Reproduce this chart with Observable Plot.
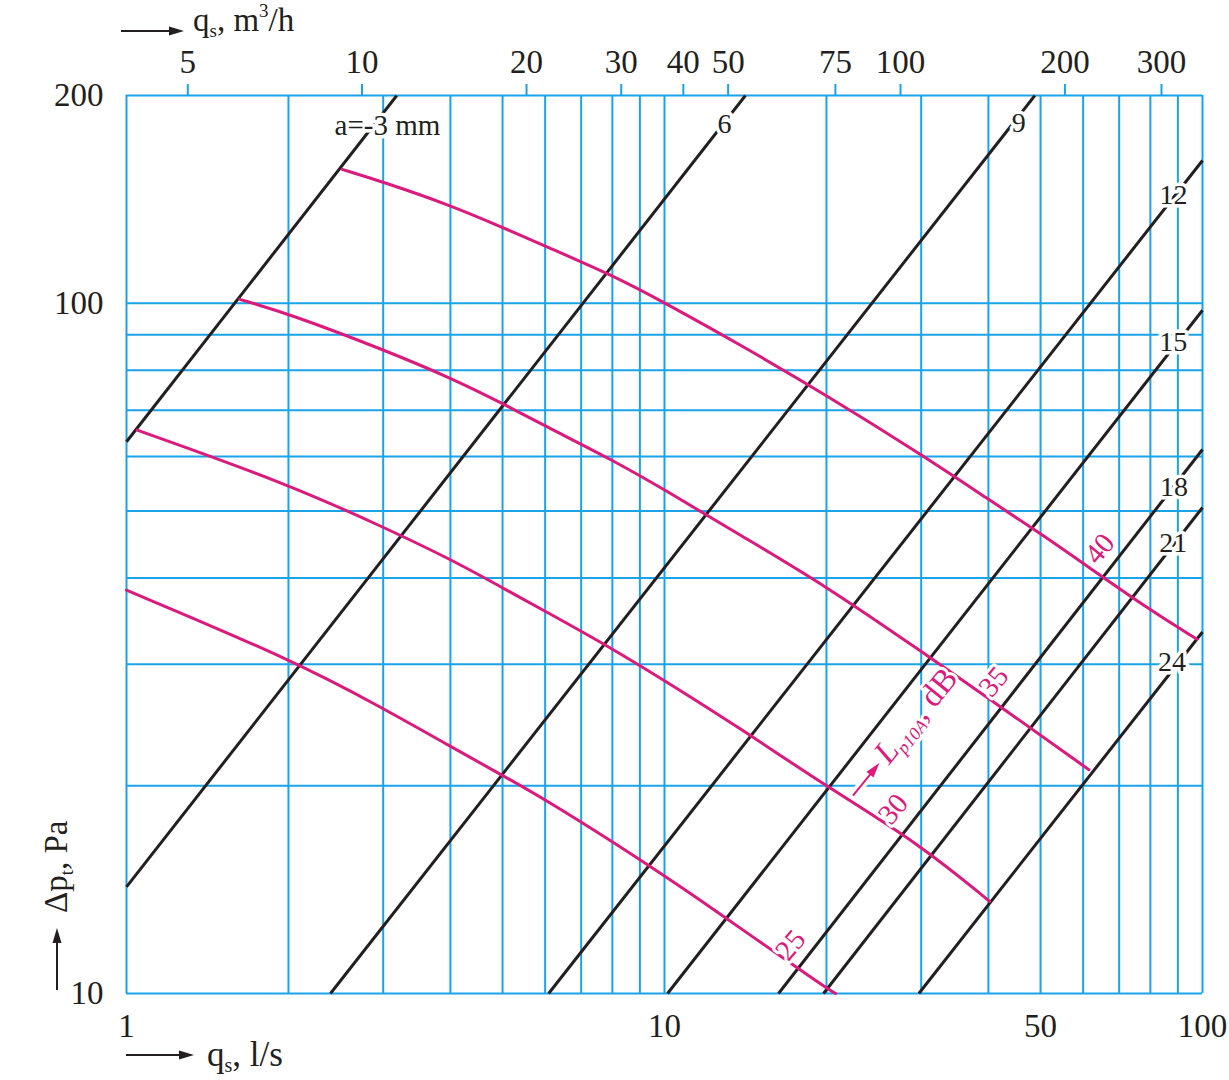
<!DOCTYPE html>
<html><head><meta charset="utf-8">
<script src="https://cdn.jsdelivr.net/npm/d3@7"></script>
<script src="https://cdn.jsdelivr.net/npm/@observablehq/plot@0.6"></script>
<style>
html,body{margin:0;padding:0;background:#fff;}
#chart svg{display:block;}
</style></head><body><div id="chart"></div>
<script>
// ---- axes / grid values ----
const gridQ = [1,2,3,4,5,6,7,8,9,10,20,30,40,50,60,70,80,90,100];
const gridP = [10,20,30,40,50,60,70,80,90,100,200];
const bottomTicks = [1,10,50,100];
const leftTicks = [10,100,200];
const topTickLabels = [5,10,20,30,40,50,75,100,200,300];          // m3/h
const topTickAt = [1.30,2.74,5.54,8.31,10.84,13.13,20.78,27.46,55.5,83.9]; // position in l/s

// ---- black lines: a (mm), endpoints [q l/s, dp Pa] ----
const lineNames = ["-3","6","9","12","15","18","21","24"];
const lineQ1 = [1,1,2.394,6.09,10.13,16.29,19.75,29.7];
const lineP1 = [63.0,14.27,10,10,10,10,10,10];
const lineQ2 = [3.18,14.14,48.8,100,100,100,100,100];
const lineP2 = [200,200,200,161,97.7,61.4,50.6,33.4];
const lineLabelText = ["a=-3 mm","6","9","12","15","18","21","24"];
const lineLabelQ = [3.055,12.93,45.56,88.34,88.2,88.5,88.2,87.8];
const lineLabelP = [181.1,181.8,182.2,143.5,87.9,54.2,44.9,30.2];

// ---- pink curves: L_p10A (dB) ----
const levels = [40,35,30,25];
const q40 = [2.517,3,4,5,6,8,10,13.85,20,30,40,50,60,80,97.7];
const p40 = [156.3,149.9,138.7,128.8,121.0,109.8,100.2,87.0,73.6,60.4,52.0,46.4,42.0,35.9,32.6];
const q35 = [1.624,2,3,4,5,6,8,10,13.85,20,30,40,61.5];
const p35 = [101.3,96.6,85.7,78.0,71.6,66.4,59.3,53.7,46.1,38.9,31.3,26.8,21.1];
const q30 = [1.047,2,3,4,5,6,8,10,13.85,19.9,29.7,40.2];
const p30 = [65.5,54.7,47.4,42.6,38.7,35.8,31.6,28.4,24.2,20.0,16.5,13.6];
const q25 = [1,2,3,4,5,6,8,10,11.67,19.9,20.8];
const p25 = [38.4,30.6,25.9,22.8,20.7,19.1,16.6,14.8,13.65,10.2,10];
const levelLabelQ = [64.4,40.9,26.6,17.15];
const levelLabelP = [44.1,28.3,18.5,11.75];
const unitLabelQ = 22.45, unitLabelP = 19.32;

// ---- tables ----
const gridColor = "#1ba3e8";
const pink = "#dc1a7c";
const ink = "#231f20";
const topRows = topTickAt.map((v,i)=>({q:v, t:String(topTickLabels[i])}));
const lineRows = lineNames.map((a,i)=>({a, q1:lineQ1[i], p1:lineP1[i], q2:lineQ2[i], p2:lineP2[i]}));
const lineLabelRows = lineLabelText.map((t,i)=>({t, q:lineLabelQ[i], p:lineLabelP[i]}));
const curveSets = [[q40,p40],[q35,p35],[q30,p30],[q25,p25]];
const curveRows = curveSets.flatMap(([qs,ps],k)=>qs.map((q,i)=>({level:levels[k], q, p:ps[i]})));
const levelLabelRows = levels.map((l,i)=>({t:String(l), q:levelLabelQ[i], p:levelLabelP[i]}));

const FONT = "'Liberation Serif','Times New Roman',serif";
const chart = Plot.plot({
  width: 1229, height: 1080,
  marginLeft: 126, marginRight: 27, marginTop: 95, marginBottom: 87,
  x: {type: "log", domain: [1, 100]},
  y: {type: "log", domain: [10, 200]},
  style: {fontFamily: FONT, fontSize: "33px", color: ink, background: "#fff", overflow: "visible"},
  marks: [
    Plot.ruleX(gridQ, {stroke: gridColor, strokeWidth: 2}),
    Plot.ruleY(gridP, {stroke: gridColor, strokeWidth: 2}),
    Plot.axisX(topTickAt, {anchor: "top", tickSize: 12, stroke: gridColor, strokeWidth: 2, tickFormat: () => "", label: null}),
    Plot.text(topRows, {x: "q", frameAnchor: "top", lineAnchor: "middle", dy: -33, text: "t", fontSize: 33, fill: ink}),
    Plot.axisX(bottomTicks, {anchor: "bottom", tickSize: 0, tickPadding: 20, tickFormat: d => String(d), label: null, fontSize: 33}),
    Plot.axisY(leftTicks, {anchor: "left", tickSize: 0, tickPadding: 23, tickFormat: d => String(d), label: null, fontSize: 33}),
    Plot.link(lineRows, {x1: "q1", y1: "p1", x2: "q2", y2: "p2", stroke: ink, strokeWidth: 3}),
    Plot.line(curveRows, {x: "q", y: "p", z: "level", stroke: pink, strokeWidth: 3, curve: "basis"}),
    Plot.text(lineLabelRows, {x: "q", y: "p", text: "t", fontSize: d => d.t.length > 2 ? 29 : 28, fill: ink, stroke: "#fff", strokeWidth: 7}),
    Plot.text(levelLabelRows, {x: "q", y: "p", text: "t", rotate: -50, fontSize: 29, fill: pink, stroke: "#fff", strokeWidth: 6})
  ]
});
document.getElementById("chart").appendChild(chart);

// ---- annotations: axis titles and unit label ----
const svg = d3.select(chart);
const sx = chart.scale("x"), sy = chart.scale("y");
function arrow(g, len, color, halo) {
  if (halo) {
    g.append("line").attr("x1",-2).attr("y1",0).attr("x2",len+2).attr("y2",0).attr("stroke","#fff").attr("stroke-width",9);
  }
  g.append("line").attr("x1",0).attr("y1",0).attr("x2",len-12).attr("y2",0).attr("stroke",color).attr("stroke-width",2);
  g.append("path").attr("d",`M${len-15},-4.5L${len},0L${len-15},4.5Z`).attr("fill",color);
}
function title(g, x, y, parts, color, halo, size) {
  const t = g.append("text").attr("x",x).attr("y",y).attr("fill",color)
    .attr("text-anchor","start")
    .attr("font-family",FONT).attr("font-size",size || 33);
  if (halo) t.attr("stroke","#fff").attr("stroke-width",6).attr("paint-order","stroke");
  for (const p of parts) {
    const s = t.append("tspan").text(p.t);
    if (p.dy) s.attr("dy", p.dy);
    if (p.size) s.attr("font-size", p.size);
    if (p.italic) s.attr("font-style","italic");
  }
  return t;
}
// top title
const gt = svg.append("g").attr("transform","translate(121,31)");
arrow(gt, 63, ink);
title(gt, 72, 0, [{t:"q"},{t:"s",size:19,dy:6},{t:", m",dy:-6},{t:"3",size:19,dy:-14},{t:"/h",dy:14}], ink);
// bottom title
const gb = svg.append("g").attr("transform","translate(126,1055)");
arrow(gb, 68, ink);
title(gb, 81, 11, [{t:"q"},{t:"s",size:20,dy:6},{t:", l/s",dy:-6}], ink, false, 35);
// left title
const gl = svg.append("g").attr("transform","translate(57,990) rotate(-90)");
arrow(gl, 62, ink);
title(gl, 77, 10, [{t:"Δp"},{t:"t",size:19,dy:6},{t:", Pa",dy:-6}], ink);
// unit label on curves
const gu = svg.append("g").attr("transform",`translate(${sx.apply(unitLabelQ)},${sy.apply(unitLabelP)}) rotate(-51)`);
arrow(gu, 42, pink, true);
title(gu, 46, 9, [{t:"L",italic:true},{t:"p10A",size:18,dy:6,italic:true},{t:", dB",dy:-6}], pink, true);
</script>
</body></html>
